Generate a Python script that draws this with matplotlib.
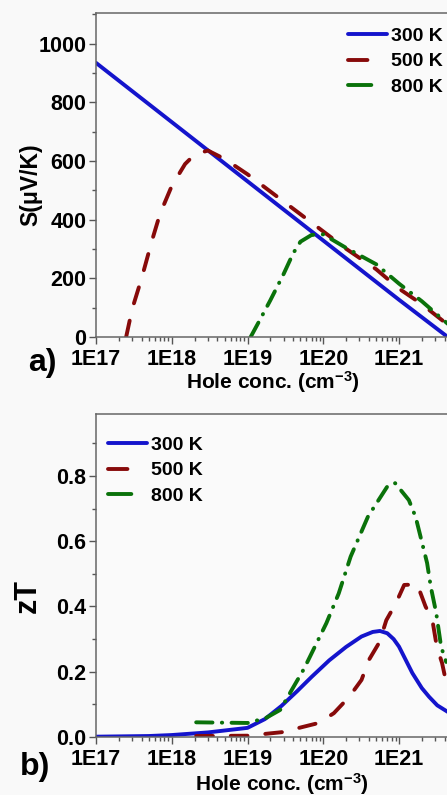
import matplotlib
matplotlib.use("Agg")
import matplotlib.pyplot as plt
from matplotlib.ticker import MultipleLocator, LogLocator, NullFormatter, FixedLocator

plt.rcParams['font.family'] = ['Liberation Sans', 'DejaVu Sans']
plt.rcParams['font.weight'] = 'bold'
plt.rcParams['mathtext.fontset'] = 'custom'
plt.rcParams['mathtext.rm'] = 'Liberation Sans:bold'
plt.rcParams['mathtext.bf'] = 'Liberation Sans:bold'
plt.rcParams['mathtext.default'] = 'bf'

# Seebeck coefficient S (uV/K) vs hole concentration (cm^-3)
s300_conc = [1e17, 1e18, 1e19, 1e20, 1e21, 4.4e21]
s300_val = [935, 733, 531, 329, 127, 0]

s500_conc = [2.5e17, 3.0e17, 4.0e17, 5.5e17, 7.0e17, 1e18, 1.5e18, 2e18, 3e18,
             5e18, 1e19, 1e20, 2e20, 5e20, 1e21, 2e21, 4.4e21]
s500_val = [0, 95, 200, 330, 420, 515, 590, 622, 636,
            607, 555, 360, 301, 231, 165, 112, 42]

s800_conc = [1.1e19, 1.4e19, 2e19, 3e19, 4e19, 5e19, 7e19, 1e20, 2e20, 5e20,
             1e21, 2e21, 4.4e21]
s800_val = [0, 50, 125, 215, 285, 325, 348, 350, 304, 248,
            182, 122, 45]

# zT vs hole concentration
zt300_conc = [1e17, 5e17, 1e18, 3e18, 1e19, 1.7e19, 2.8e19, 4.5e19, 7e19, 1.2e20, 2e20,
              3.2e20, 4.5e20, 5.6e20, 7e20, 8.5e20, 1e21, 1.5e21, 2e21, 2.5e21, 3.2e21, 4.4e21]
zt300_val = [0.001, 0.003, 0.006, 0.014, 0.028, 0.055, 0.095, 0.14, 0.184, 0.235, 0.276,
             0.308, 0.322, 0.325, 0.318, 0.3, 0.277, 0.196, 0.15, 0.123, 0.097, 0.077]

zt500_conc = [2.1e18, 1e19, 2.9e19, 4.8e19, 8.7e19, 1.38e20, 2.2e20, 3.2e20, 4e20,
              5.5e20, 6.8e20, 9.1e20, 1.17e21, 1.74e21, 2.24e21, 2.75e21, 3.16e21,
              3.7e21, 4.4e21]
zt500_val = [0.003, 0.004, 0.015, 0.028, 0.043, 0.073, 0.123, 0.175, 0.236,
             0.29, 0.358, 0.41, 0.466, 0.468, 0.4, 0.36, 0.276,
             0.227, 0.145]

zt800_conc = [2.1e18, 1e19, 1.74e19, 2.7e19, 5.6e19, 1.1e20, 1.6e20, 2.3e20, 3.9e20,
              7.2e20, 8.9e20, 1.35e21, 1.66e21, 2.35e21, 2.63e21, 3.1e21, 3.6e21, 4.2e21]
zt800_val = [0.045, 0.043, 0.058, 0.083, 0.21, 0.349, 0.44, 0.553, 0.676,
             0.772, 0.778, 0.726, 0.674, 0.533, 0.46, 0.38, 0.276, 0.23]

temps = ['300 K', '500 K', '800 K']
colors = ['#1414cc', '#870a0a', '#0a720a']
dash_styles = [None, (4.3, 4.6), (4.2, 2.4, 0.1, 2.4)]
legend_dashes = [None, (5.0, 20.0), (6.0, 20.0)]
x_ticks = [1e17, 1e18, 1e19, 1e20, 1e21]
x_ticklabels = ['1E17', '1E18', '1E19', '1E20', '1E21']

W, H = 447, 795
fig = plt.figure(figsize=(W / 100, H / 100), dpi=100, facecolor='#f9f9f9')

left = 96 / W
width = (449 - 96) / W
ax1 = fig.add_axes([left, 1 - 337 / H, width, 324 / H])
ax2 = fig.add_axes([left, 1 - 737 / H, width, 323 / H])


def draw(ax, series):
    for (conc, val), lab, c, d in zip(series, temps, colors, dash_styles):
        ln, = ax.plot(conc, val, color=c, lw=2.8, label=lab,
                      solid_capstyle='round', dash_capstyle='round')
        if d is not None:
            ln.set_dashes(d)
    ax.set_xscale('log')
    ax.set_xlim(1e17, 10 ** 21.66)
    ax.set_facecolor('#fafafa')
    ax.xaxis.set_major_locator(FixedLocator(x_ticks))
    ax.set_xticklabels(x_ticklabels)
    ax.xaxis.set_minor_locator(LogLocator(base=10, subs=range(2, 10), numticks=20))
    ax.xaxis.set_minor_formatter(NullFormatter())
    ax.tick_params(which='major', direction='out', length=5, width=1, color='#555555',
                   labelsize=15.5, pad=2)
    ax.tick_params(axis='x', which='major', pad=3.5)
    ax.tick_params(which='minor', direction='out', length=3, width=1, color='#555555')
    for sp in ax.spines.values():
        sp.set_color('#666666')
        sp.set_linewidth(1.1)


def add_legend(ax, x0, y0):
    leg = ax.legend(loc='upper left', bbox_to_anchor=(x0 / W, 1 - y0 / H),
                    bbox_transform=fig.transFigure, frameon=False, fontsize=14,
                    handlelength=2.0, handletextpad=0.2, labelspacing=0.42,
                    borderpad=0, borderaxespad=0)
    for ln, d in zip(leg.get_lines(), legend_dashes):
        if d is not None:
            ln.set_dashes(d)
    return leg


draw(ax1, [(s300_conc, s300_val), (s500_conc, s500_val), (s800_conc, s800_val)])
ax1.set_ylim(0, 1105)
ax1.yaxis.set_major_locator(MultipleLocator(200))
ax1.yaxis.set_minor_locator(MultipleLocator(100))
ax1.set_ylabel('S(\u03bcV/K)', fontsize=16.5, fontweight='bold')
ax1.yaxis.set_label_coords(-0.153, 0.47)
ax1.set_xlabel('Hole conc. (cm$^{-3}$)', fontsize=15, fontweight='bold')
ax1.xaxis.set_label_coords(0.5, -0.1)
add_legend(ax1, 348, 27)

draw(ax2, [(zt300_conc, zt300_val), (zt500_conc, zt500_val), (zt800_conc, zt800_val)])
ax2.set_ylim(0, 0.99)
ax2.yaxis.set_major_locator(MultipleLocator(0.2))
ax2.yaxis.set_minor_locator(MultipleLocator(0.1))
ax2.yaxis.set_major_formatter(lambda v, pos: f'{v:.1f}')
ax2.set_ylabel('zT', fontsize=22, fontweight='bold')
ax2.yaxis.set_label_coords(-0.15, 0.437)
ax2.set_xlabel('Hole conc. (cm$^{-3}$)', fontsize=15, fontweight='bold')
ax2.xaxis.set_label_coords(0.527, -0.105)
add_legend(ax2, 108, 436)

fig.text(42 / W, 1 - 363 / H, 'a)', fontsize=23, fontweight='bold', ha='center', va='center')
fig.text(35 / W, 1 - 767 / H, 'b)', fontsize=23, fontweight='bold', ha='center', va='center')

fig.savefig('out.png', dpi=100, facecolor=fig.get_facecolor())
